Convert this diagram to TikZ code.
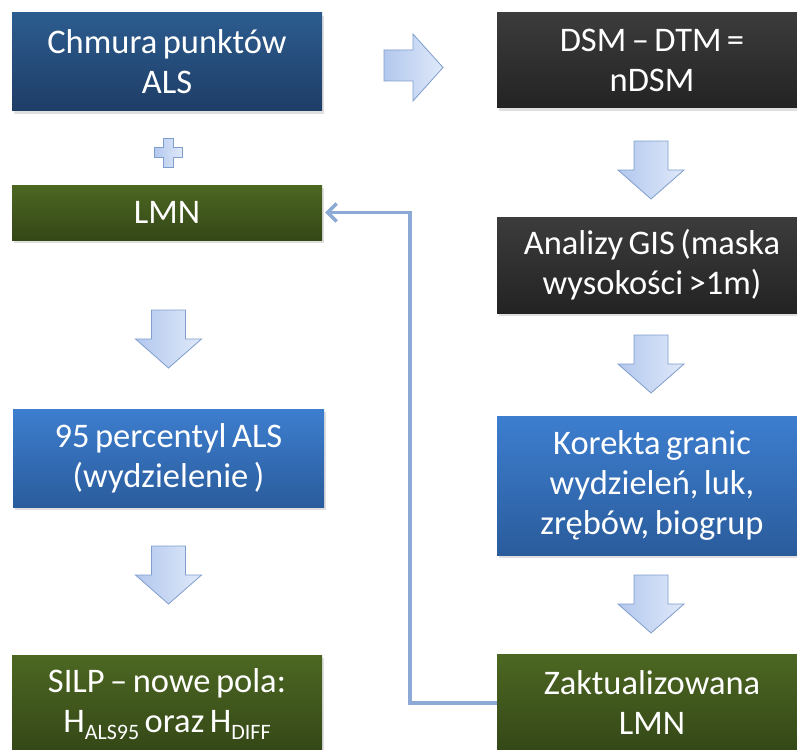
\documentclass[tikz,border=0pt]{standalone}
\usepackage{fontspec}
\setmainfont{Carlito}[WordSpace=0.7]
\usetikzlibrary{arrows.meta,shadows}
\definecolor{bluetop}{HTML}{2C5C8F}
\definecolor{bluebot}{HTML}{1E3D66}
\definecolor{lbluetop}{HTML}{3D7ECF}
\definecolor{lbluebot}{HTML}{2A5C9C}
\definecolor{darktop}{HTML}{3C3C3C}
\definecolor{darkbot}{HTML}{232323}
\definecolor{greentop}{HTML}{4C6722}
\definecolor{greenbot}{HTML}{344717}
\definecolor{arrowl}{HTML}{B3C8EE}
\definecolor{arrowr}{HTML}{DFE9F9}
\definecolor{arrowline}{HTML}{7F9DCD}
\definecolor{fbline}{HTML}{8DAAD6}
\tikzset{
  box/.style={rectangle, inner sep=0pt, text=white, align=center,
    font=\fontsize{34.5}{40}\selectfont,
    drop shadow={shadow xshift=2pt, shadow yshift=-3pt, opacity=0.25}},
  bluebox/.style={box, top color=bluetop, bottom color=bluebot},
  lbluebox/.style={box, top color=lbluetop, bottom color=lbluebot},
  darkbox/.style={box, top color=darktop, bottom color=darkbot},
  greenbox/.style={box, top color=greentop, bottom color=greenbot},
  blockarrow/.style={draw=arrowline, line width=0.8pt, left color=arrowl, right color=arrowr, line join=miter},
  fb/.style={draw=fbline, line width=3.5pt, -{Straight Barb[length=9pt,width=18pt,line width=3.5pt]}, shorten >=3pt}
}
\newcommand{\blockdown}[2]{% center x, top y
  \path[blockarrow] (#1-17,#2) -- (#1+17,#2) -- (#1+17,#2+29) -- (#1+33,#2+29)
     -- (#1,#2+58) -- (#1-33,#2+29) -- (#1-17,#2+29) -- cycle;}
\begin{document}
\begin{tikzpicture}[x=1pt,y=-1pt]
\clip (0,0) rectangle (797,749);
\fill[white] (0,0) rectangle (797,749);
% left column
\node[bluebox, minimum width=310pt, minimum height=98pt] (chmura) at (167,62) {Chmura punktów\\ALS};
\node[greenbox, minimum width=310pt, minimum height=55pt] (lmn) at (167,212.5) {LMN};
\node[lbluebox, minimum width=311pt, minimum height=98pt] (perc) at (168.5,458) {95 percentyl ALS\\(wydzielenie )};
\node[greenbox, minimum width=310pt, minimum height=98pt] (silp) at (167,704) {SILP -- nowe pola:\\H\raisebox{-7pt}{\fontsize{22}{22}\selectfont ALS95} oraz H\raisebox{-7pt}{\fontsize{22}{22}\selectfont DIFF}};
% right column
\node[darkbox, minimum width=310pt, minimum height=95pt] (dsm) at (652,60.5) {DSM -- DTM =\\nDSM};
\node[darkbox, minimum width=310pt, minimum height=96pt] (gis) at (652,265) {Analizy GIS (maska\\wysokości >1m)};
\node[lbluebox, minimum width=310pt, minimum height=139pt] (kor) at (652,485.5) {Korekta granic\\wydzieleń, luk,\\zrębów, biogrup};
\node[greenbox, minimum width=310pt, minimum height=98pt] (zak) at (652,703) {Zaktualizowana\\LMN};
% plus sign
\path[blockarrow] (163,138) -- (173,138) -- (173,147) -- (182,147) -- (182,157) -- (173,157)
   -- (173,167) -- (163,167) -- (163,157) -- (154,157) -- (154,147) -- (163,147) -- cycle;
% right block arrow
\path[blockarrow] (384,50) -- (413,50) -- (413,34) -- (443,67.5) -- (413,101) -- (413,81) -- (384,81) -- cycle;
% down block arrows
\blockdown{168.5}{310}
\blockdown{168.5}{546}
\blockdown{651}{141}
\blockdown{651}{335}
\blockdown{651}{575}
% feedback connector
\coordinate (bend) at (410,703);
\draw[fb] (zak.west) -- (bend) |- (lmn.east);
\end{tikzpicture}
\end{document}
